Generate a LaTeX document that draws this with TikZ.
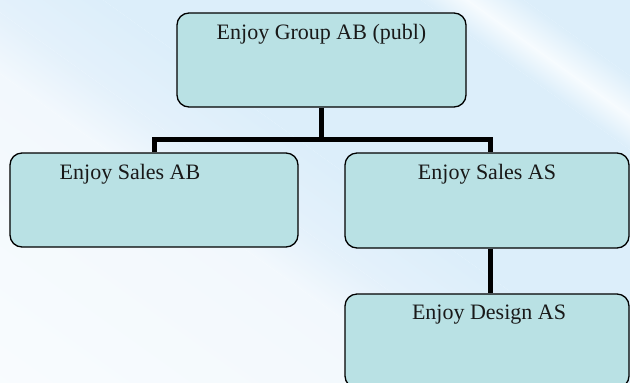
\documentclass[tikz,border=0pt]{standalone}
\usepackage{fontspec}
\setmainfont{Liberation Serif}
\definecolor{boxfill}{RGB}{185,225,228}
\definecolor{bgA}{RGB}{249,252,254}
\definecolor{bgB}{RGB}{242,248,253}
\definecolor{bgC}{RGB}{228,241,251}
\definecolor{bgD}{RGB}{220,238,250}
\definecolor{bgE}{RGB}{246,251,254}
\tikzset{
  orgbox/.style={draw=black, line width=1.3bp, fill=boxfill, rounded corners=12bp, inner sep=0pt},
  lbl/.style={font=\fontsize{22bp}{26bp}\selectfont, anchor=base, inner sep=0pt, text=black!90},
  conn/.style={line width=5bp, line join=miter, draw=black},
  band/.style={shading=axis, shading angle=90}
}
\begin{document}
\begin{tikzpicture}[x=1bp, y=-1bp]
\useasboundingbox (0,0) rectangle (630,382);
\begin{scope}
\clip (0,0) rectangle (630,382);
% background gradient bands along diagonal axis
\begin{scope}[overlay, transform canvas={rotate around={54.4:(0,0)}}]
  \shade[band, left color=bgA, right color=bgB] (-340,-900) rectangle (-60,900);
  \shade[band, left color=bgB, right color=bgC] (-60,-900) rectangle (-10,900);
  \shade[band, left color=bgC, right color=bgD] (-10,-900) rectangle (60,900);
  \shade[band, left color=bgD, right color=bgD] (60,-900) rectangle (245,900);
  \shade[band, left color=bgD, right color=bgE] (245,-900) rectangle (272,900);
  \shade[band, left color=bgE, right color=bgD] (272,-900) rectangle (305,900);
  \shade[band, left color=bgD, right color=bgD] (305,-900) rectangle (400,900);
\end{scope}

\node[orgbox, minimum width=289bp, minimum height=94bp,
      label={[lbl, yshift=-27bp]north:Enjoy Group AB (publ)}] (grp) at (321.5,60) {};
\node[orgbox, minimum width=288bp, minimum height=94bp,
      label={[lbl, yshift=-27.5bp, xshift=-24bp]north:Enjoy Sales AB}] (sab) at (154,200) {};
\node[orgbox, minimum width=284bp, minimum height=95bp,
      label={[lbl, yshift=-27.5bp]north:Enjoy Sales AS}] (sas) at (487,200.5) {};
\node[orgbox, minimum width=284bp, minimum height=94bp,
      label={[lbl, yshift=-26bp, xshift=2bp]north:Enjoy Design AS}] (des) at (487,341) {};

\coordinate (bar) at (321.5,139);
\draw[conn] (grp.south) -- (grp.south |- bar);
\draw[conn] (sab.north) |- (bar) -| ([xshift=3bp]sas.north);
\draw[conn] ([xshift=3bp]sas.south) -- ([xshift=3bp]des.north);
\end{scope}
\end{tikzpicture}
\end{document}
